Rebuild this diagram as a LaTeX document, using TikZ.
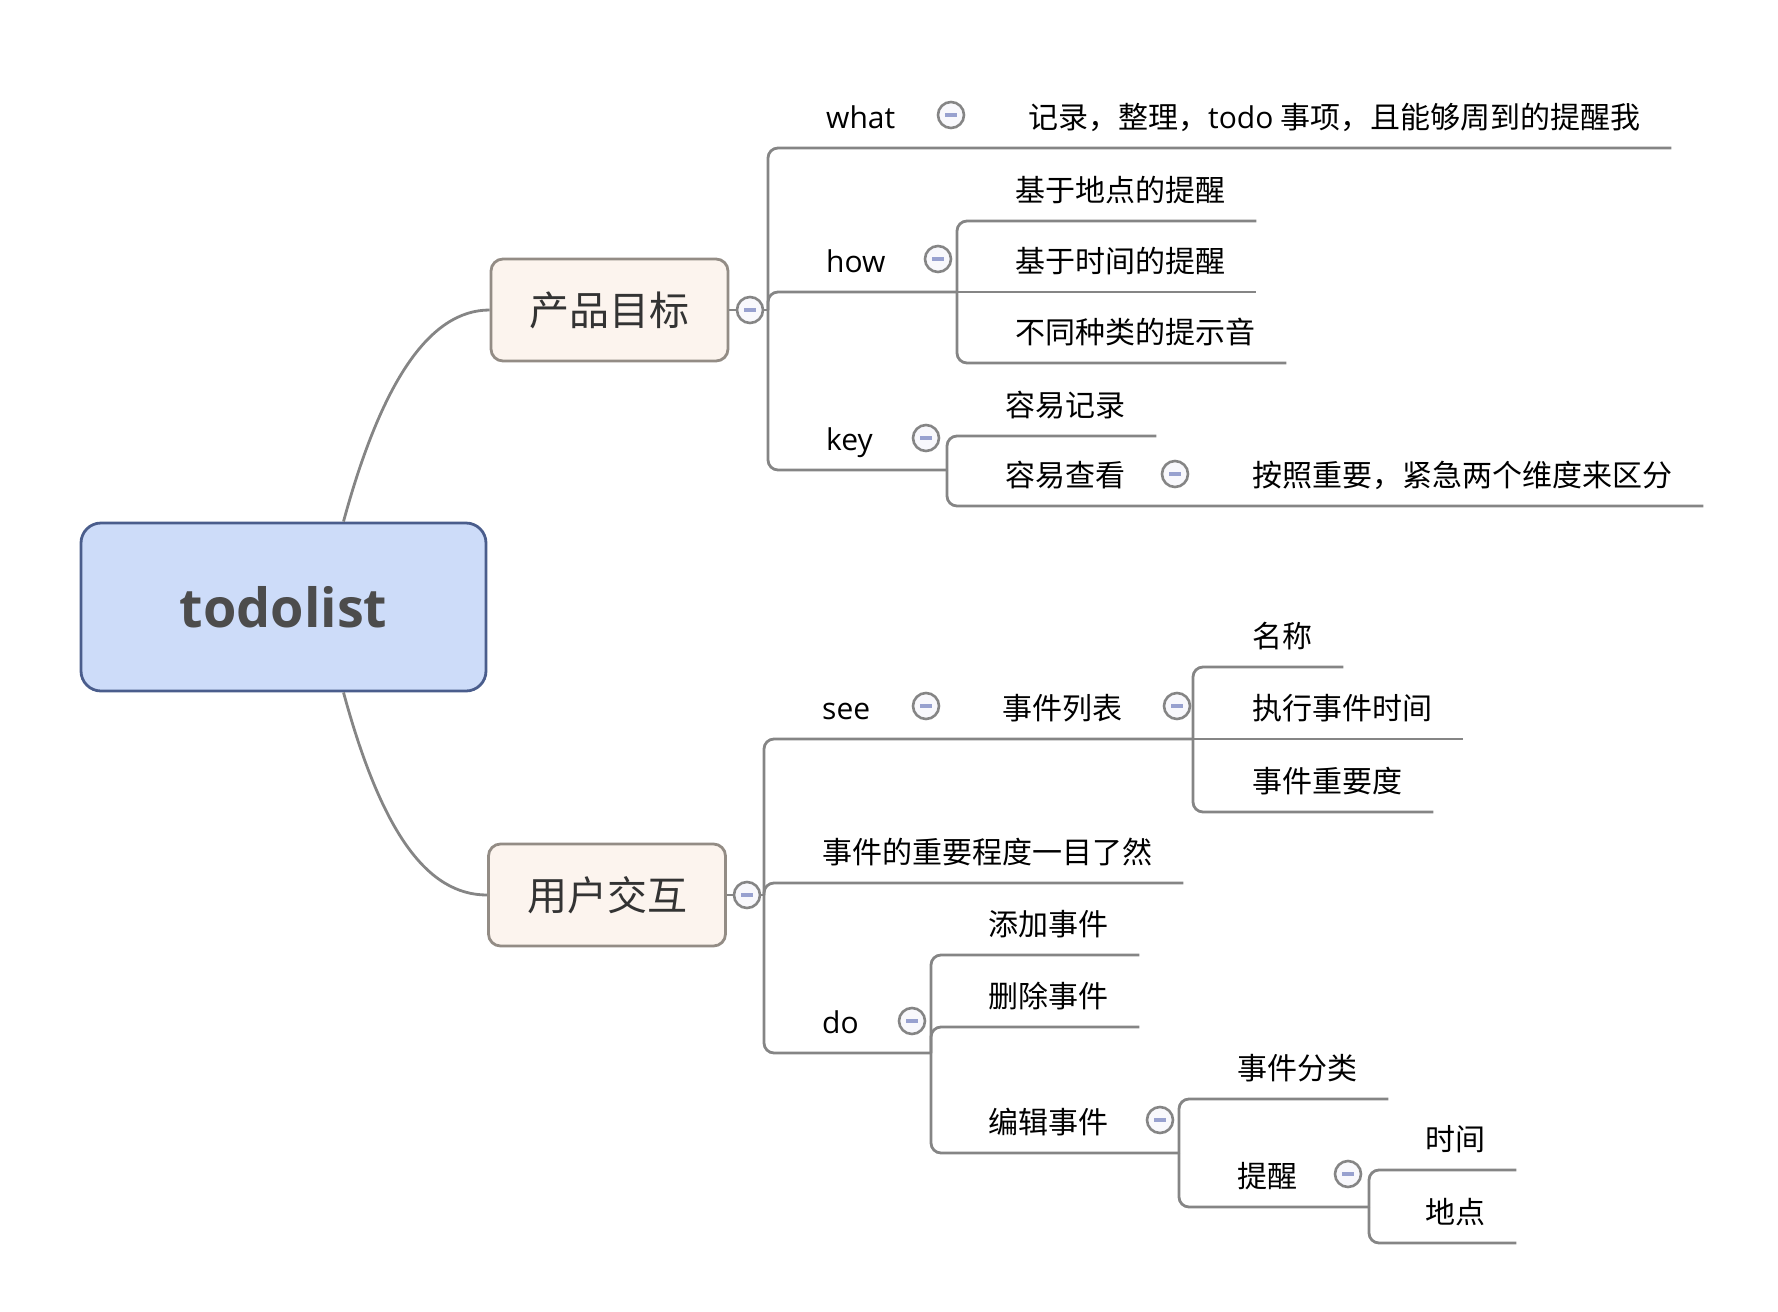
\documentclass[tikz,border=0pt]{standalone}
\usepackage{fontspec}
\setmainfont{Open Sans}
\newfontfamily\cjk{Noto Sans CJK SC}
\definecolor{linegray}{HTML}{858585}
\definecolor{rootfill}{HTML}{CDDCF9}
\definecolor{rootline}{HTML}{4A5D8C}
\definecolor{boxfill}{HTML}{FCF4EE}
\definecolor{boxline}{HTML}{938C85}
\definecolor{togglefill}{HTML}{F8F8FC}
\definecolor{minusblue}{HTML}{98A1CF}
\tikzset{
  central/.style={draw=rootline, fill=rootfill, line width=2.8pt, rounded corners=20pt,
    minimum width=405pt, minimum height=168pt, text=black!70,
    font=\fontsize{54}{62}\selectfont\bfseries},
  mainbox/.style={draw=boxline, fill=boxfill, line width=2.8pt, rounded corners=12pt,
    minimum width=237pt, minimum height=102pt, text=black!80,
    font=\cjk\fontsize{40}{48}\selectfont},
  topic/.style={anchor=base west, inner sep=0pt, font=\fontsize{30}{36}\selectfont},
  topiccn/.style={topic, font=\cjk\fontsize{30}{36}\selectfont},
  conn/.style={draw=linegray, line width=2.8pt, rounded corners=10pt},
  toggle/.style={circle, draw=linegray, fill=togglefill, line width=2.6pt,
    minimum size=26pt, inner sep=0pt,
    path picture={\draw[minusblue, line width=3.2pt]
      ([xshift=-6pt]path picture bounding box.center) --
      ([xshift=6pt]path picture bounding box.center);}}
}
\begin{document}
\begin{tikzpicture}[x=1pt, y=-1pt]
		\useasboundingbox (0,0) rectangle (1778,1312);
		%%%%% START %%%%%
		
		\node[central] (root) at (283.5,607) {todolist};
		\node[mainbox] (goal) at (609.5,310) {产品目标};
		\node[mainbox] (ui) at (607,895) {用户交互};
		
		% 产品目标
		\node[topic] (what) at (826,128) {what};
		\node[topiccn] (record) at (1028,128) {记录，整理，{\rmfamily todo} 事项，且能够周到的提醒我};
		\node[topic] (how) at (826,272) {how};
		\node[topiccn] (byplace) at (1015,201) {基于地点的提醒};
		\node[topiccn] (bytime) at (1015,272) {基于时间的提醒};
		\node[topiccn] (sounds) at (1015,343) {不同种类的提示音};
		\node[topic] (key) at (826,450) {key};
		\node[topiccn] (easyrec) at (1005,416) {容易记录};
		\node[topiccn] (easyview) at (1005,486) {容易查看};
		\node[topiccn] (split) at (1252,486) {按照重要，紧急两个维度来区分};
		
		% 用户交互
		\node[topic] (see) at (822,719) {see};
		\node[topiccn] (list) at (1002,719) {事件列表};
		\node[topiccn] (names) at (1252,647) {名称};
		\node[topiccn] (exectime) at (1252,719) {执行事件时间};
		\node[topiccn] (rank) at (1252,792) {事件重要度};
		\node[topiccn] (glance) at (822,863) {事件的重要程度一目了然};
		\node[topic] (do) at (822,1033) {do};
		\node[topiccn] (add) at (988,935) {添加事件};
		\node[topiccn] (del) at (988,1007) {删除事件};
		\node[topiccn] (edit) at (988,1133) {编辑事件};
		\node[topiccn] (kind) at (1237,1079) {事件分类};
		\node[topiccn] (remind) at (1237,1187) {提醒};
		\node[topiccn] (time) at (1425,1150) {时间};
		\node[topiccn] (place) at (1425,1223) {地点};
		
		% line ends, junctions
		\foreach \n in {record,byplace,bytime,sounds,easyrec,split,names,exectime,rank,glance,add,del,kind,time,place}
			\coordinate (\n-e) at ([shift={(31pt,-20pt)}]\n.base east);
		\coordinate (j-goal) at (768,310);
		\coordinate (j-how) at (957,292);
		\coordinate (j-key) at (947,470);
		\coordinate (j-ui) at (764,895);
		\coordinate (j-list) at (1193,739);
		\coordinate (j-do) at (931,1053);
		\coordinate (j-edit) at (1179,1153);
		\coordinate (j-remind) at (1369,1207);
		
		\draw[conn] ([xshift=60pt]root.north) .. controls +(38,-140) and +(-60,0) .. (goal.west);
		\draw[conn] ([xshift=60pt]root.south) .. controls +(38,140) and +(-60,0) .. (ui.west);
		
		\draw[conn] (goal.east) -- (j-goal);
		\draw[conn] (j-goal) |- (record-e);
		\draw[conn] (j-goal) |- (j-how);
		\draw[conn] (j-goal) |- (j-key);
		\draw[conn] (j-how) |- (byplace-e);
		\draw[conn] (j-how) -- (bytime-e);
		\draw[conn] (j-how) |- (sounds-e);
		\draw[conn] (j-key) |- (easyrec-e);
		\draw[conn] (j-key) |- (split-e);
		
		\draw[conn] (ui.east) -- (j-ui);
		\draw[conn] (j-ui) |- (j-list);
		\draw[conn] (j-ui) |- (glance-e);
		\draw[conn] (j-ui) |- (j-do);
		\draw[conn] (j-list) |- (names-e);
		\draw[conn] (j-list) -- (exectime-e);
		\draw[conn] (j-list) |- (rank-e);
		\draw[conn] (j-do) |- (add-e);
		\draw[conn] (j-do) |- (del-e);
		\draw[conn] (j-do) |- (j-edit);
		\draw[conn] (j-edit) |- (kind-e);
		\draw[conn] (j-edit) |- (j-remind);
		\draw[conn] (j-remind) |- (time-e);
		\draw[conn] (j-remind) |- (place-e);
		
		% collapse toggles
		\node[toggle] (goal-t) at (750,310) {};
		\node[toggle] (what-t) at (951,115) {};
		\node[toggle] (how-t) at (938,259) {};
		\node[toggle] (key-t) at (926,438) {};
		\node[toggle] (easyview-t) at (1175,474) {};
		\node[toggle] (ui-t) at (747,895) {};
		\node[toggle] (see-t) at (926,706) {};
		\node[toggle] (list-t) at (1177,706) {};
		\node[toggle] (do-t) at (912,1021) {};
		\node[toggle] (edit-t) at (1160,1120) {};
		\node[toggle] (remind-t) at (1348,1174) {};
		
		%%%%% END %%%%%
	\end{tikzpicture}
\end{document}
